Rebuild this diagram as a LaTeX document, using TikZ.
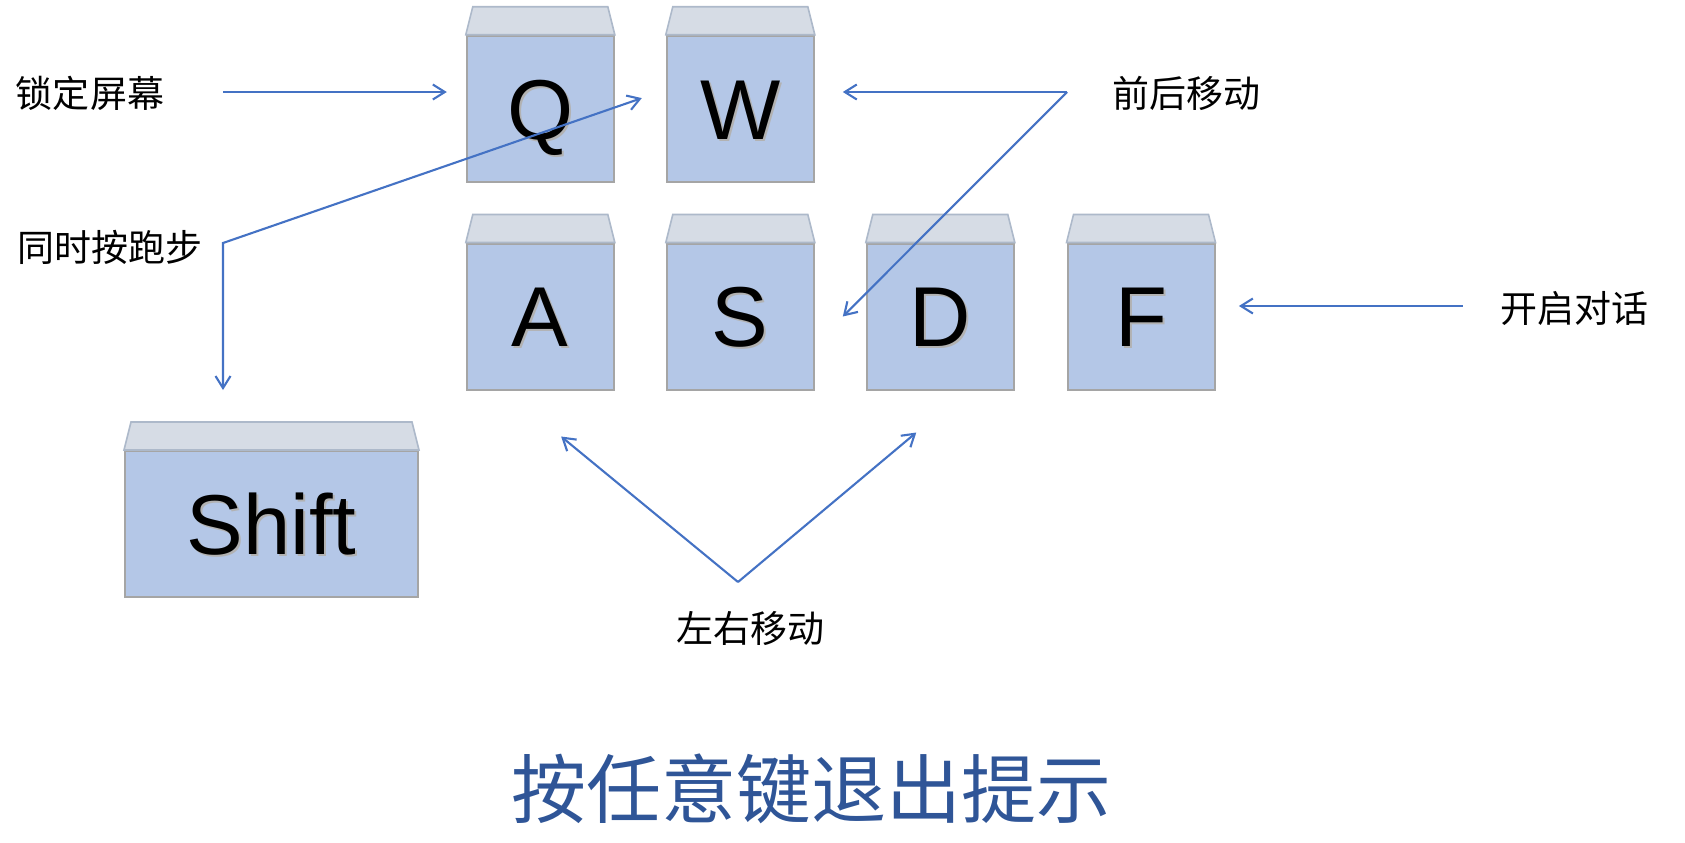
\documentclass[tikz,border=0pt]{standalone}
\usepackage{fontspec}
\setmainfont{Liberation Sans}
\newfontfamily\cjk{Noto Sans CJK SC}
\usetikzlibrary{calc,arrows.meta}
\definecolor{keyblue}{HTML}{B4C7E7}
\definecolor{keyedge}{HTML}{A5A5A5}
\definecolor{capgray}{HTML}{D6DCE5}
\definecolor{capedge}{HTML}{ADB9CA}
\definecolor{arrowblue}{HTML}{4472C4}
\definecolor{titleblue}{HTML}{2F5597}
\def\keycap(#1){\draw[keytop] (#1.north west) -- ($(#1.north west)+(7,-28)$) -- ($(#1.north east)+(-7,-28)$) -- (#1.north east) -- cycle;}
\def\keyletter#1{\rlap{\kern1pt\raisebox{-1pt}{\textcolor{black!30}{#1}}}#1}

\begin{document}
\begin{tikzpicture}[x=0.5pt,y=-0.5pt,
	key/.style={draw=keyedge, line width=1pt, fill=keyblue, minimum width=73.5pt, minimum height=73pt, inner sep=0pt, font=\fontsize{42.5}{50}\selectfont, text height=30.4pt, text depth=0pt},
	keytop/.style={draw=capedge, line width=0.8pt, fill=capgray},
	hint/.style={font=\cjk\fontsize{18.5}{22}\selectfont, inner sep=0pt},
	arr/.style={draw=arrowblue, line width=1.05pt, -{Straight Barb[length=6pt,width=7.5pt]}}]
				\useasboundingbox (0,0) rectangle (1685,842);
				
				\node[key] (Q) at (540.3,108.7) {\keyletter{Q}};
				\node[key] (W) at (740.3,108.7) {\keyletter{W}};
				\node[key] (A) at (540.3,316.5) {\keyletter{A}};
				\node[key] (S) at (740.3,316.5) {\keyletter{S}};
				\node[key] (D) at (940.3,316.5) {\keyletter{D}};
				\node[key] (F) at (1141,316.5) {\keyletter{F}};
				\node[key, minimum width=146.5pt] (Shift) at (271.5,524) {\keyletter{Shift}};
				\foreach \k in {Q,W,A,S,D,F,Shift} \keycap(\k);
				
				\node[hint] (lock) at (90,93) {锁定屏幕};
				\node[hint] (run) at (110,247) {同时按跑步};
				\node[hint] (fb) at (1186,93) {前后移动};
				\node[hint] (talk) at (1574,308) {开启对话};
				\node[hint] (lr) at (750,628) {左右移动};
				\node[font=\cjk\fontsize{37.5}{44}\selectfont, text=titleblue, inner sep=0pt] (title) at (811,789) {按任意键退出提示};
				
				\coordinate (lockstart) at (223,92);
				\coordinate (runbend) at (223,243);
				\coordinate (runend) at (223,390);
				\coordinate (fbbend) at (1067,92);
				\coordinate (talkstart) at (1462.5,306);
				\coordinate (lrbend) at (738,582);
				
				\draw[arr] (lockstart) -- ([xshift=-9.5pt]Q.west |- lockstart);
				\draw[arr, {Straight Barb[length=6pt,width=7.5pt]}-{Straight Barb[length=6pt,width=7.5pt]}] ([xshift=-12pt,yshift=5.3pt]W.west) -- (runbend) -- (runend);
				\draw[arr] (fbbend) -- ([xshift=14pt]W.east |- fbbend);
				\draw[arr] (fbbend) -- ([xshift=14pt]S.east);
				\draw[arr] (talkstart) -- ([xshift=11.7pt]F.east |- talkstart);
				\draw[arr] (lrbend) -- ([xshift=10.4pt,yshift=-23pt]A.south);
				\draw[arr] (lrbend) -- ([xshift=-12pt,yshift=-21pt]D.south);
\end{tikzpicture}
\end{document}
